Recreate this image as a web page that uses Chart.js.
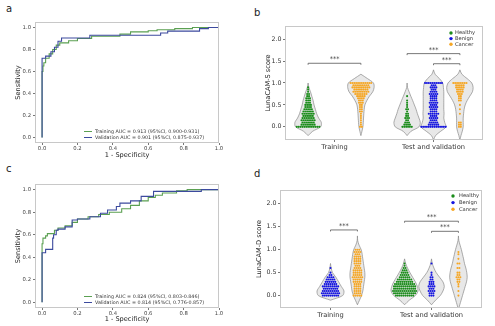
<!DOCTYPE html>
<html>
<head>
<meta charset="utf-8">
<script src="https://cdn.jsdelivr.net/npm/chart.js@4.4.1/dist/chart.umd.min.js"></script>
<style>
  body { margin: 0; background: #fff; width: 495px; height: 326px; position: relative; overflow: hidden; font-family: 'DejaVu Sans', sans-serif; }
  canvas { position: absolute; }
  .tag { position: absolute; font-size: 10px; line-height: 10px; color: #222; }
</style>
</head>
<body>
<div class="tag" style="left:6px;top:4px">a</div>
<div class="tag" style="left:254px;top:8px">b</div>
<div class="tag" style="left:6px;top:164px">c</div>
<div class="tag" style="left:254px;top:169px">d</div>
<canvas id="rocA" width="245" height="163" style="left:0;top:0"></canvas>
<canvas id="violinB" width="250" height="163" style="left:245px;top:0"></canvas>
<canvas id="rocC" width="245" height="163" style="left:0;top:163px"></canvas>
<canvas id="violinD" width="250" height="163" style="left:245px;top:163px"></canvas>
<script>
// ---- data ----
const rocTicks = [0, 0.2, 0.4, 0.6, 0.8, 1.0];
const scoreTicks = [0, 0.5, 1.0, 1.5, 2.0];
const groups = ['Training', 'Test and validation'];
const classes = ['Healthy', 'Benign', 'Cancer'];

// ROC corners (fpr, tpr), drawn as step-after lines
const aTrainFpr = [0, 0, 0.005, 0.01, 0.02, 0.04, 0.06, 0.08, 0.1, 0.15, 0.2, 0.28, 0.44, 0.5, 0.6, 0.65, 0.75, 0.85, 0.97, 1];
const aTrainTpr = [0, 0.47, 0.6, 0.65, 0.68, 0.72, 0.76, 0.8, 0.84, 0.86, 0.88, 0.9, 0.92, 0.94, 0.96, 0.97, 0.98, 0.99, 1, 1];
const aValFpr = [0, 0, 0.02, 0.05, 0.07, 0.09, 0.11, 0.27, 0.67, 0.71, 0.89, 0.94, 0.99, 1];
const aValTpr = [0, 0.70, 0.72, 0.74, 0.78, 0.82, 0.875, 0.905, 0.93, 0.95, 0.967, 0.99, 1, 1];
const aLabels = ['Training AUC = 0.913 (95%CI, 0.900-0.931)', 'Validation AUC = 0.901 (95%CI, 0.875-0.937)'];

const cTrainFpr = [0, 0, 0.005, 0.02, 0.03, 0.07, 0.09, 0.13, 0.17, 0.2, 0.26, 0.32, 0.38, 0.45, 0.5, 0.55, 0.6, 0.64, 0.68, 0.76, 0.82, 0.85, 1];
const cTrainTpr = [0, 0.38, 0.52, 0.57, 0.59, 0.61, 0.64, 0.66, 0.68, 0.71, 0.74, 0.76, 0.78, 0.8, 0.83, 0.86, 0.9, 0.93, 0.95, 0.97, 0.99, 1, 1];
const cValFpr = [0, 0, 0.02, 0.06, 0.065, 0.08, 0.09, 0.13, 0.17, 0.2, 0.27, 0.33, 0.37, 0.42, 0.44, 0.5, 0.56, 0.63, 0.9, 0.98, 1];
const cValTpr = [0, 0.28, 0.44, 0.47, 0.57, 0.6, 0.64, 0.65, 0.67, 0.73, 0.74, 0.76, 0.79, 0.82, 0.85, 0.88, 0.9, 0.94, 0.985, 1, 1];
const cLabels = ['Training AUC = 0.824 (95%CI, 0.803-0.846)', 'Validation AUC = 0.814 (95%CI, 0.776-0.857)'];

// violin outlines: relative half-width at each score level
const violinLevels = [-0.3, -0.2, -0.1, 0, 0.1, 0.2, 0.3, 0.4, 0.5, 0.6, 0.7, 0.8, 0.9, 1.0, 1.1, 1.2, 1.3];
const bTrainHealthyW = [0, 0, 0.35, 0.95, 1.0, 0.8, 0.65, 0.55, 0.45, 0.38, 0.28, 0.18, 0.06, 0, 0, 0, 0];
const bTrainCancerW  = [0, 0, 0.08, 0.15, 0.18, 0.2, 0.22, 0.25, 0.3, 0.45, 0.65, 0.9, 1.0, 0.95, 0.5, 0, 0];
const bTestHealthyW  = [0, 0, 0.3, 0.9, 1.0, 0.9, 0.78, 0.68, 0.55, 0.42, 0.28, 0.15, 0.03, 0, 0, 0, 0];
const bTestBenignW   = [0, 0.15, 0.55, 0.95, 0.85, 0.78, 0.8, 0.78, 0.78, 0.78, 0.78, 0.78, 0.75, 0.7, 0.45, 0.12, 0];
const bTestCancerW   = [0, 0.08, 0.18, 0.25, 0.25, 0.25, 0.28, 0.32, 0.4, 0.55, 0.75, 0.95, 1.0, 0.9, 0.55, 0.15, 0];
const dTrainBenignW  = [0, 0, 0, 0.9, 1.0, 0.8, 0.6, 0.4, 0.15, 0.05, 0, 0, 0, 0, 0, 0, 0];
const dTrainCancerW  = [0, 0, 0.15, 0.3, 0.4, 0.45, 0.5, 0.55, 0.55, 0.5, 0.45, 0.4, 0.35, 0.28, 0.12, 0.02, 0];
const dTestHealthyW  = [0, 0, 0.35, 0.8, 1.0, 0.95, 0.8, 0.6, 0.4, 0.22, 0.08, 0, 0, 0, 0, 0, 0];
const dTestBenignW   = [0, 0, 0.3, 0.65, 0.85, 0.95, 0.85, 0.6, 0.35, 0.18, 0.06, 0, 0, 0, 0, 0, 0];
const dTestCancerW   = [0, 0.1, 0.2, 0.3, 0.4, 0.5, 0.6, 0.65, 0.62, 0.55, 0.45, 0.38, 0.3, 0.22, 0.12, 0.03, 0];

// swarm points: number of samples at each score level
const swarmLevels = [0, 0.05, 0.1, 0.15, 0.2, 0.25, 0.3, 0.35, 0.4, 0.45, 0.5, 0.55, 0.6, 0.65, 0.7, 0.75, 0.8, 0.85, 0.9, 0.95, 1.0];
const bTrainHealthyN = [13, 8, 7, 8, 7, 6, 7, 6, 5, 4, 4, 3, 3, 3, 2, 2, 1, 1, 1, 0, 0];
const bTrainCancerN  = [2, 1, 1, 1, 1, 1, 1, 2, 2, 2, 2, 3, 3, 4, 5, 7, 9, 8, 10, 9, 12];
const bTestHealthyN  = [6, 4, 3, 2, 3, 2, 2, 1, 2, 1, 1, 1, 1, 0, 1, 0, 0, 0, 0, 0, 0];
const bTestBenignN   = [14, 6, 5, 4, 5, 4, 6, 4, 4, 5, 4, 5, 4, 4, 4, 5, 4, 3, 4, 3, 10];
const bTestCancerN   = [2, 2, 2, 0, 0, 0, 1, 0, 1, 0, 1, 0, 2, 2, 2, 3, 4, 4, 5, 5, 8];
const dTrainBenignN  = [9, 10, 9, 8, 9, 7, 6, 5, 4, 2, 1, 0, 1, 0, 0, 0, 0, 0, 0, 0, 0];
const dTrainCancerN  = [5, 4, 4, 4, 4, 4, 5, 5, 6, 5, 5, 5, 4, 3, 4, 4, 4, 4, 3, 4, 3];
const dTestHealthyN  = [10, 12, 13, 12, 12, 11, 9, 8, 6, 5, 4, 3, 2, 1, 1, 0, 0, 0, 0, 0, 0];
const dTestBenignN   = [3, 3, 4, 3, 4, 3, 3, 2, 2, 1, 1, 0, 0, 0, 1, 0, 0, 0, 0, 0, 0];
const dTestCancerN   = [1, 0, 1, 0, 1, 1, 2, 2, 3, 2, 2, 0, 2, 0, 2, 0, 1, 0, 1, 1, 0];

// significance brackets: group, from class, to class, height
const bBracketGroup = [0, 1, 1];
const bBracketFrom  = [0, 0, 1];
const bBracketTo    = [2, 2, 2];
const bBracketY     = [1.45, 1.67, 1.44];
const dBracketGroup = [0, 1, 1];
const dBracketFrom  = [1, 0, 1];
const dBracketTo    = [2, 2, 2];
const dBracketY     = [1.43, 1.62, 1.40];

// ---- styling ----
Chart.defaults.font.family = "'DejaVu Sans', sans-serif";
Chart.defaults.color = '#333';
Chart.defaults.animation = false;

const trainColor = '#5ba052';
const valColor   = '#3c4a9e';
const classColors = ['#1a8c1a', '#1414e0', '#f6a623'];
const frameColor = '#c8c8c8';
const hueStep = 0.8 / 3;      // seaborn dodge width per hue
const dotStep = 0.019;        // horizontal spacing of swarm dots

// light grey box around the plotting area
const framePlugin = {
    id: 'frame',
    afterDatasetsDraw(chart) {
        const { ctx, chartArea: a } = chart;
        ctx.save();
        ctx.strokeStyle = frameColor;
        ctx.lineWidth = 1;
        ctx.strokeRect(Math.round(a.left) + 0.5, Math.round(a.top) + 0.5, Math.round(a.right - a.left) - 1, Math.round(a.bottom - a.top) - 1);
        ctx.restore();
    }
};

// AUC legend in the lower right
const rocLegend = {
    id: 'rocLegend',
    afterDraw(chart) {
        const { ctx, chartArea: a } = chart;
        ctx.save();
        ctx.font = "4.8px 'DejaVu Sans'";
        ctx.textBaseline = 'middle';
        chart.data.datasets.forEach((ds, i) => {
            const y = a.bottom - 11.5 + i * 6;
            ctx.strokeStyle = ds.borderColor;
            ctx.lineWidth = 1;
            ctx.beginPath();
            ctx.moveTo(a.left + 49, y);
            ctx.lineTo(a.left + 57, y);
            ctx.stroke();
            ctx.fillStyle = '#333';
            ctx.fillText(ds.label, a.left + 60, y);
        });
        ctx.restore();
    }
};

function rocChart(id, fprT, tprT, fprV, tprV, labels, box) {
    return new Chart(document.getElementById(id), {
        type: 'line',
        data: {
            datasets: [
                {
                    label: labels[0],
                    data: fprT.map((x, i) => ({ x, y: tprT[i] })),
                    borderColor: trainColor, borderWidth: 1.1,
                    stepped: 'after', pointRadius: 0, order: 2
                },
                {
                    label: labels[1],
                    data: fprV.map((x, i) => ({ x, y: tprV[i] })),
                    borderColor: valColor, borderWidth: 1.1,
                    stepped: 'after', pointRadius: 0, order: 1
                }
            ]
        },
        options: {
            responsive: false,
            layout: { padding: { left: 0, top: box.top, right: box.right, bottom: 0 } },
            plugins: { legend: { display: false }, tooltip: { enabled: false } },
            scales: {
                x: {
                    type: 'linear', min: -0.04, max: 1.0,
                    afterBuildTicks: s => { s.ticks = rocTicks.map(v => ({ value: v })); },
                    afterFit: s => { s.height = box.xh; },
                    border: { display: false },
                    grid: { drawOnChartArea: false, tickLength: 2, color: '#777' },
                    ticks: { font: { size: 5.3 }, color: '#444', padding: 0, maxRotation: 0, callback: v => v.toFixed(1) },
                    title: { display: true, text: '1 - Specificity', font: { size: 6.6 }, color: '#222', padding: { top: 0, bottom: box.xtp } }
                },
                y: {
                    min: -0.05, max: 1.05,
                    afterBuildTicks: s => { s.ticks = rocTicks.map(v => ({ value: v })); },
                    afterFit: s => { s.width = box.yw; },
                    border: { display: false },
                    grid: { drawOnChartArea: false, tickLength: 2, color: '#777' },
                    ticks: { font: { size: 5.3 }, color: '#444', padding: 2, callback: v => v.toFixed(1) },
                    title: { display: true, text: 'Sensitivity', font: { size: 6.6 }, color: '#222', padding: { top: box.ytp, bottom: 0 } }
                }
            }
        },
        plugins: [framePlugin, rocLegend]
    });
}

rocChart('rocA', aTrainFpr, aTrainTpr, aValFpr, aValTpr, aLabels, { top: 22, right: 26, xh: 20, yw: 35, xtp: 3.5, ytp: 14 });
rocChart('rocC', cTrainFpr, cTrainTpr, cValFpr, cValTpr, cLabels, { top: 21, right: 26, xh: 18, yw: 35, xtp: 2.7, ytp: 14 });

// ---- violin + swarm panels ----
function violinOutline(center, widths) {
    const idx = widths.map((w, i) => i).filter(i => widths[i] > 0);
    const lo = Math.max(idx[0] - 1, 0), hi = Math.min(idx[idx.length - 1] + 1, widths.length - 1);
    const right = [], left = [];
    for (let i = lo; i <= hi; i++) {
        right.push({ x: center + widths[i] * hueStep / 2, y: violinLevels[i] });
        left.unshift({ x: center - widths[i] * hueStep / 2, y: violinLevels[i] });
    }
    return right.concat(left);
}

function swarmPoints(center, counts) {
    const pts = [];
    counts.forEach((n, i) => {
        for (let k = 0; k < n; k++) pts.push({ x: center + (k - (n - 1) / 2) * dotStep, y: swarmLevels[i] });
    });
    return pts;
}

const bracketPlugin = {
    id: 'brackets',
    afterDatasetsDraw(chart, args, opts) {
        const { ctx, scales: { x, y } } = chart;
        ctx.save();
        ctx.strokeStyle = '#555';
        ctx.fillStyle = '#333';
        ctx.lineWidth = 0.8;
        ctx.font = "6.5px 'DejaVu Sans'";
        ctx.textAlign = 'center';
        ctx.textBaseline = 'bottom';
        opts.group.forEach((g, i) => {
            const x1 = x.getPixelForValue(g + (opts.from[i] - 1) * hueStep);
            const x2 = x.getPixelForValue(g + (opts.to[i] - 1) * hueStep);
            const yy = y.getPixelForValue(opts.y[i]);
            ctx.beginPath();
            ctx.moveTo(x1, yy + 1.5); ctx.lineTo(x1, yy); ctx.lineTo(x2, yy); ctx.lineTo(x2, yy + 1.5);
            ctx.stroke();
            ctx.fillText('***', (x1 + x2) / 2, yy - 0.5);
        });
        ctx.restore();
    }
};

const classLegend = {
    id: 'classLegend',
    afterDraw(chart, args, opts) {
        const { ctx, chartArea: a } = chart;
        ctx.save();
        ctx.font = "5.2px 'DejaVu Sans'";
        ctx.textBaseline = 'middle';
        classes.forEach((c, i) => {
            const y = a.top + opts.top + i * opts.gap;
            ctx.fillStyle = classColors[i];
            ctx.beginPath();
            ctx.arc(a.right - opts.dx, y, 1.7, 0, Math.PI * 2);
            ctx.fill();
            ctx.fillStyle = '#333';
            ctx.fillText(c, a.right - opts.dx + opts.tx, y);
        });
        ctx.restore();
    }
};

function violinChart(id, yTitle, violins, brackets, box) {
    const datasets = [];
    violins.forEach(v => {
        const center = v.group + (v.cls - 1) * hueStep;
        datasets.push({
            data: swarmPoints(center, v.counts),
            showLine: false, pointRadius: 1.05, pointBorderWidth: 0,
            pointBackgroundColor: classColors[v.cls], order: 1
        });
        datasets.push({
            data: violinOutline(center, v.widths),
            borderColor: '#8a8a8a', borderWidth: 0.7, backgroundColor: 'rgba(228,228,228,0.85)',
            fill: 'shape', tension: 0.3, pointRadius: 0, order: 2
        });
    });
    return new Chart(document.getElementById(id), {
        type: 'line',
        data: { datasets },
        options: {
            responsive: false,
            layout: { padding: { left: 0, top: box.top, right: box.right, bottom: 0 } },
            plugins: {
                legend: { display: false }, tooltip: { enabled: false },
                brackets, classLegend: box.legend
            },
            scales: {
                x: {
                    type: 'linear', min: -0.5, max: 1.5,
                    afterBuildTicks: s => { s.ticks = groups.map((g, i) => ({ value: i })); },
                    afterFit: s => { s.height = box.xh; },
                    border: { display: false },
                    grid: { drawOnChartArea: false, tickLength: 2, color: '#777' },
                    ticks: { font: { size: 6.7 }, color: '#333', padding: 1, maxRotation: 0, callback: (v, i) => groups[i] }
                },
                y: {
                    min: box.ymin, max: 2.3,
                    afterBuildTicks: s => { s.ticks = scoreTicks.map(v => ({ value: v })); },
                    afterFit: s => { s.width = box.yw; },
                    border: { display: false },
                    grid: { drawOnChartArea: false, tickLength: 2, color: '#777' },
                    ticks: { font: { size: 6.3 }, color: '#333', padding: 1.5, callback: v => v.toFixed(1) },
                    title: { display: true, text: yTitle, font: { size: 6.6 }, color: '#222', padding: { top: box.ytp, bottom: 0 } }
                }
            }
        },
        plugins: [framePlugin, bracketPlugin, classLegend]
    });
}

violinChart('violinB', 'LunaCAM-S score', [
    { group: 0, cls: 0, widths: bTrainHealthyW, counts: bTrainHealthyN },
    { group: 0, cls: 2, widths: bTrainCancerW, counts: bTrainCancerN },
    { group: 1, cls: 0, widths: bTestHealthyW, counts: bTestHealthyN },
    { group: 1, cls: 1, widths: bTestBenignW, counts: bTestBenignN },
    { group: 1, cls: 2, widths: bTestCancerW, counts: bTestCancerN }
], { group: bBracketGroup, from: bBracketFrom, to: bBracketTo, y: bBracketY },
{ top: 26, right: 12, xh: 23, yw: 40, ytp: 19.5, ymin: -0.3, legend: { top: 7, gap: 5.6, dx: 32, tx: 4 } });

violinChart('violinD', 'LunaCAM-D score', [
    { group: 0, cls: 1, widths: dTrainBenignW, counts: dTrainBenignN },
    { group: 0, cls: 2, widths: dTrainCancerW, counts: dTrainCancerN },
    { group: 1, cls: 0, widths: dTestHealthyW, counts: dTestHealthyN },
    { group: 1, cls: 1, widths: dTestBenignW, counts: dTestBenignN },
    { group: 1, cls: 2, widths: dTestCancerW, counts: dTestCancerN }
], { group: dBracketGroup, from: dBracketFrom, to: dBracketTo, y: dBracketY },
{ top: 27, right: 13, xh: 18, yw: 35, ytp: 10.8, ymin: -0.27, legend: { top: 6, gap: 6.6, dx: 29, tx: 6 } });
</script>
</body>
</html>
